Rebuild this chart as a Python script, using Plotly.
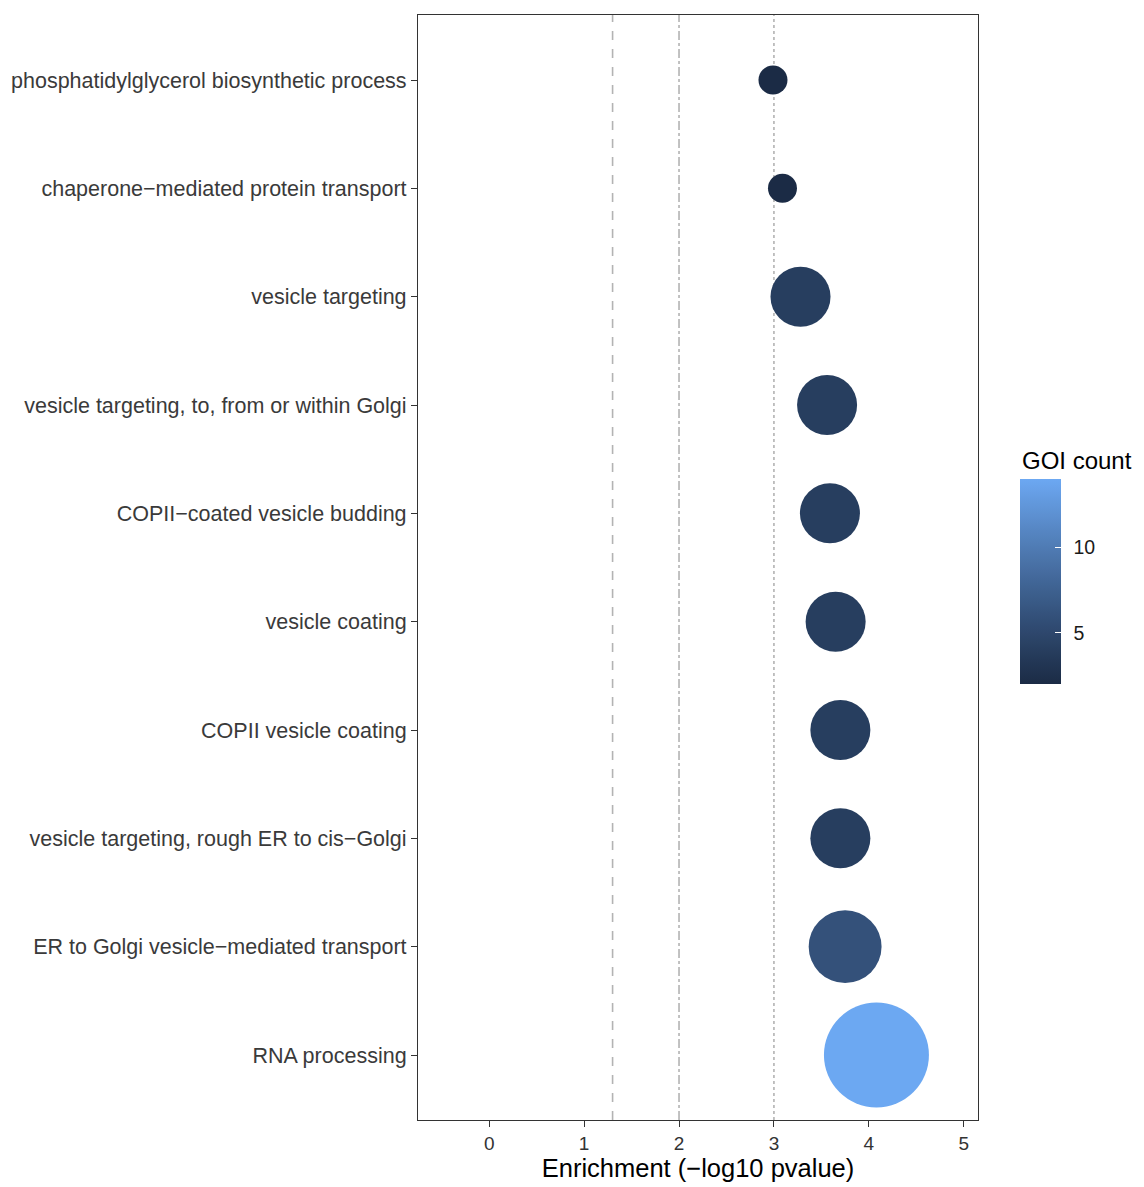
import plotly.graph_objects as go

# GO terms, top to bottom as listed on the axis
terms = [
    "phosphatidylglycerol biosynthetic process",
    "chaperone\u2212mediated protein transport",
    "vesicle targeting",
    "vesicle targeting, to, from or within Golgi",
    "COPII\u2212coated vesicle budding",
    "vesicle coating",
    "COPII vesicle coating",
    "vesicle targeting, rough ER to cis\u2212Golgi",
    "ER to Golgi vesicle\u2212mediated transport",
    "RNA processing",
]
enrichment = [2.99, 3.09, 3.28, 3.56, 3.59, 3.65, 3.70, 3.70, 3.75, 4.08]
goi_count = [2, 2, 4, 4, 4, 4, 4, 4, 6, 14]

# significance reference lines (-log10 p)
thresholds = [1.3, 2.0, 3.0]
threshold_dash = ["dash", "dashdot", "dot"]

x_ticks = [0, 1, 2, 3, 4, 5]
cbar_ticks = [5, 10]

LOW, HIGH = "#1B2B45", "#6CA8F2"
FONT = "Liberation Sans, Arial, Helvetica, sans-serif"


# --- gradient interpolated in CIE Lab, like a sequential colour scale ---
def _hex_to_rgb(h):
    h = h.lstrip("#")
    return [int(h[i:i + 2], 16) for i in (0, 2, 4)]


def _rgb_to_lab(rgb):
    lin = []
    for c in rgb:
        c = c / 255
        lin.append(c / 12.92 if c <= 0.04045 else ((c + 0.055) / 1.055) ** 2.4)
    r, g, b = lin
    X = (0.4124 * r + 0.3576 * g + 0.1805 * b) / 0.95047
    Y = 0.2126 * r + 0.7152 * g + 0.0722 * b
    Z = (0.0193 * r + 0.1192 * g + 0.9505 * b) / 1.08883
    d = 6 / 29

    def f(t):
        return t ** (1 / 3) if t > d ** 3 else t / (3 * d * d) + 4 / 29

    fx, fy, fz = f(X), f(Y), f(Z)
    return [116 * fy - 16, 500 * (fx - fy), 200 * (fy - fz)]


def _lab_to_hex(lab):
    L, a, b = lab
    fy = (L + 16) / 116
    fx = fy + a / 500
    fz = fy - b / 200
    d = 6 / 29

    def finv(t):
        return t ** 3 if t > d else 3 * d * d * (t - 4 / 29)

    X, Y, Z = finv(fx) * 0.95047, finv(fy), finv(fz) * 1.08883
    r = 3.2406 * X - 1.5372 * Y - 0.4986 * Z
    g = -0.9689 * X + 1.8758 * Y + 0.0415 * Z
    bb = 0.0557 * X - 0.2040 * Y + 1.0570 * Z
    out = []
    for c in (r, g, bb):
        c = max(0.0, c)
        c = 12.92 * c if c <= 0.0031308 else 1.055 * c ** (1 / 2.4) - 0.055
        out.append(max(0, min(255, round(c * 255))))
    return "#%02x%02x%02x" % tuple(out)


lab_lo, lab_hi = _rgb_to_lab(_hex_to_rgb(LOW)), _rgb_to_lab(_hex_to_rgb(HIGH))
n_stops = 21
colorscale = []
for i in range(n_stops):
    t = i / (n_stops - 1)
    colorscale.append([t, _lab_to_hex([lo + (hi - lo) * t for lo, hi in zip(lab_lo, lab_hi)])])

# --- point size: area palette, diameter grows with sqrt of rescaled count ---
D_MIN, D_MAX = 29, 105
c_min, c_max = min(goi_count), max(goi_count)
diam = [D_MIN + (D_MAX - D_MIN) * ((c - c_min) / (c_max - c_min)) ** 0.5 for c in goi_count]

# shared colour-bar geometry
CB = dict(x=1.075, xanchor="left", xpad=0, y=0.4873, yanchor="middle", ypad=0,
          lenmode="pixels", len=205, thickness=41, thicknessmode="pixels",
          outlinewidth=0, tickvals=cbar_ticks)

fig = go.Figure()

for xv, dash in zip(thresholds, threshold_dash):
    fig.add_shape(type="line", xref="x", yref="paper", x0=xv, x1=xv, y0=0, y1=1,
                  line=dict(color="#b3b3b3", width=1.6, dash=dash), layer="below")

# labelled colour bar (ticks pushed out, invisible)
fig.add_trace(go.Scatter(
    x=enrichment, y=terms, mode="markers",
    marker=dict(
        size=diam, sizemode="diameter", color=goi_count,
        colorscale=colorscale, cmin=c_min, cmax=c_max,
        line=dict(width=0), opacity=1,
        colorbar=dict(**CB, ticks="outside", ticklen=9, tickcolor="rgba(0,0,0,0)",
                      tickfont=dict(size=19.5, color="#1a1a1a", family=FONT)),
    ),
    showlegend=False,
    hovertemplate="%{y}<br>%{x}<extra></extra>",
))

# overlay bar carrying the white tick marks inside the gradient
fig.add_trace(go.Scatter(
    x=enrichment, y=terms, mode="markers", hoverinfo="skip",
    marker=dict(
        size=diam, sizemode="diameter", color=goi_count,
        colorscale=colorscale, cmin=c_min, cmax=c_max, opacity=0,
        colorbar=dict(**CB, ticks="inside", ticklen=6, tickcolor="white", tickwidth=1.2,
                      showticklabels=False),
    ),
    showlegend=False,
))

fig.add_annotation(text="GOI count", xref="paper", yref="paper", x=1.075, y=0.5968,
                   xanchor="left", yanchor="middle", showarrow=False,
                   font=dict(size=24, color="#000", family=FONT))

fig.update_layout(
    width=1144, height=1187,
    margin=dict(l=418, r=166, t=15, b=67),
    paper_bgcolor="white", plot_bgcolor="white",
    font=dict(family=FONT),
    xaxis=dict(
        range=[-0.75, 5.15], tickvals=x_ticks, showgrid=False, zeroline=False,
        ticks="outside", ticklen=6, tickcolor="#333", tickwidth=1,
        tickfont=dict(size=19, color="#333"), automargin=False,
        showline=True, linecolor="#333", linewidth=1.2, mirror=True,
        title=dict(text="Enrichment (\u2212log10 pvalue)", font=dict(size=25.5, color="#000"), standoff=5),
    ),
    yaxis=dict(
        categoryorder="array", categoryarray=terms[::-1],
        range=[-0.6, len(terms) - 0.4], showgrid=False, zeroline=False,
        ticks="outside", ticklen=6, tickcolor="#333", tickwidth=1,
        tickfont=dict(size=21.5, color="#3a3a3a"), automargin=False,
        showline=True, linecolor="#333", linewidth=1.2, mirror=True,
    ),
)

fig.write_html("out.html")
